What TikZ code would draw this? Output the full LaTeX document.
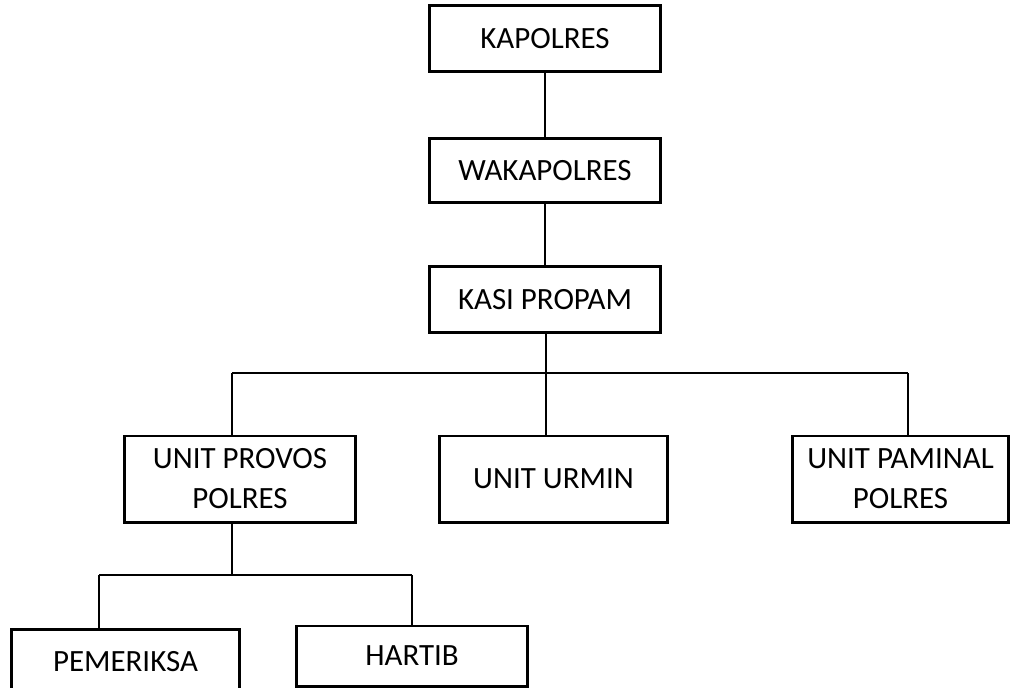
\documentclass[tikz,border=0pt]{standalone}
\usepackage{fontspec}
\setmainfont{Carlito}
\begin{document}
\begin{tikzpicture}[x=0.025cm, y=-0.025cm,
    unitbox/.style={draw, line width=2.1pt, minimum width=5.75cm, minimum height=1.6cm,
        align=center, font=\fontsize{22}{28.5}\selectfont, inner sep=0pt},
    link/.style={line width=0.9pt}]
    \useasboundingbox (0,0) rectangle (1012,687);

    % Top of the chain
    \node[unitbox, minimum height=1.63cm] (kapolres) at (545,38.5) {KAPOLRES};
    \node[unitbox, minimum height=1.58cm] (wakapolres) at (545,170.5) {WAKAPOLRES};
    \node[unitbox, minimum height=1.63cm] (kasi) at (545,299.5) {KASI PROPAM};

    % Units under Kasi Propam
    \node[unitbox, minimum height=2.15cm] (provos) at (240,479) {UNIT PROVOS\\POLRES};
    \node[unitbox, minimum height=2.15cm, minimum width=5.72cm] (urmin) at (553.5,479) {UNIT URMIN};
    \node[unitbox, minimum height=2.15cm, minimum width=5.38cm] (paminal) at (900.5,479) {UNIT PAMINAL\\POLRES};

    % Under Unit Provos
    \node[unitbox, minimum height=1.63cm, minimum width=5.72cm] (pemeriksa) at (125.5,662) {PEMERIKSA};
    \node[unitbox, minimum height=1.5cm] (hartib) at (412,656) {HARTIB};

    % Connectors
    \draw[link] (kapolres) -- (wakapolres);
    \draw[link] (wakapolres) -- (kasi);

    \coordinate (bar) at (546,373);
    \coordinate (barL) at (232,373);
    \coordinate (barR) at (908,373);
    \draw[link] (kasi.south -| bar) -- (bar |- urmin.north);
    \draw[link] (barL) -- (barR);
    \draw[link] (barL) -- (barL |- provos.north);
    \draw[link] (barR) -- (barR |- paminal.north);

    \coordinate (sub) at (232,575);
    \coordinate (subL) at (99,575);
    \coordinate (subR) at (412,575);
    \draw[link] (provos.south -| sub) -- (sub);
    \draw[link] (subL) -- (subR);
    \draw[link] (subL) -- (subL |- pemeriksa.north);
    \draw[link] (subR) -- (hartib.north);
\end{tikzpicture}
\end{document}
